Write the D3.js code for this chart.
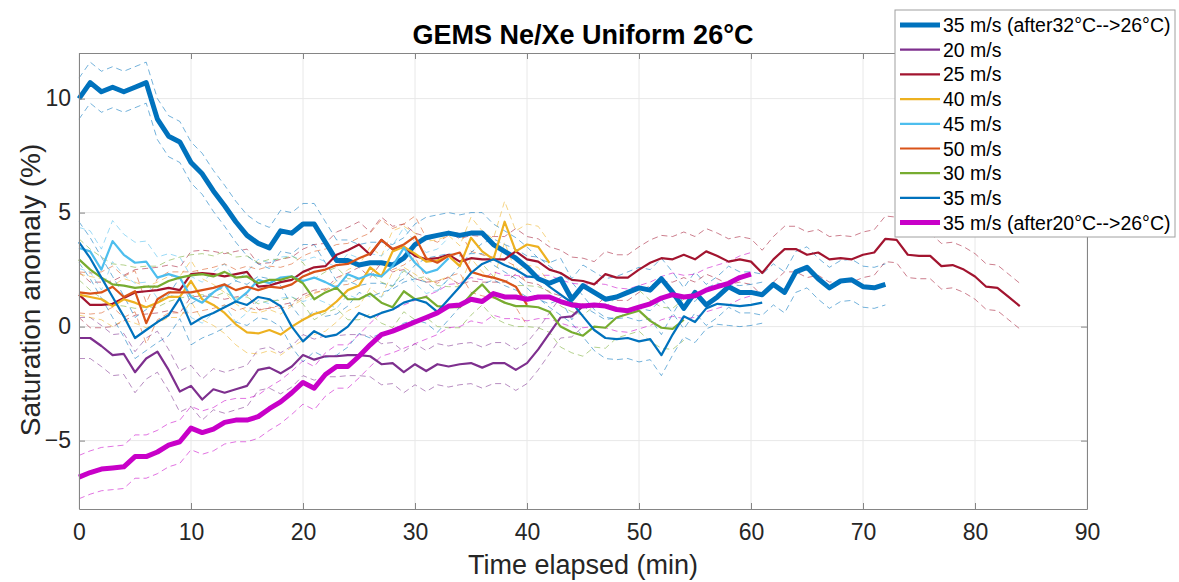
<!DOCTYPE html>
<html>
<head>
<meta charset="UTF-8">
<title>GEMS Ne/Xe Uniform 26°C</title>
<script src="https://cdn.jsdelivr.net/npm/d3@7"></script>
<style>
body { margin: 0; background: #fff; }
svg { font-family: "Liberation Sans", Arial, Helvetica, sans-serif; }
.grid line { stroke: #e8e8e8; stroke-width: 1px; }
.axis path, .axis line { stroke: #858585; }
.axis text { fill: #262626; font-size: 23px; }
.band { fill: none; stroke-width: 1px; stroke-dasharray: 6,4; opacity: 0.55; }
.curve { fill: none; stroke-linejoin: round; }
</style>
</head>
<body>
<svg width="1179" height="582"></svg>
<script>
// one sample per minute, starting at t = 0
var names = ["35 m/s (after32°C-->26°C)", "20 m/s", "25 m/s", "40 m/s", "45 m/s", "50 m/s", "30 m/s", "35 m/s", "35 m/s (after20°C-->26°C)"];
var colors = ["#0072BD", "#7E2F8E", "#A2142F", "#EDB120", "#4DBEEE", "#D95319", "#77AC30", "#0072BD", "#C800C8"];
var thick = [true, false, false, false, false, false, false, false, true];

var after32 = [10.0, 10.7, 10.3, 10.5, 10.3, 10.5, 10.7, 9.1, 8.35, 8.1, 7.2, 6.7, 5.95, 5.3, 4.6, 4.0, 3.65, 3.45, 4.2, 4.1,
  4.5, 4.5, 3.7, 2.9, 2.9, 2.7, 2.8, 2.8, 2.7, 3.0, 3.6, 3.9, 4.0, 4.1, 4.0, 4.1, 4.1, 3.6, 3.3, 3.0,
  2.6, 2.1, 1.9, 2.1, 1.2, 1.8, 1.5, 1.2, 1.3, 1.5, 1.7, 1.6, 2.1, 1.5, 0.8, 1.5, 0.95, 1.3, 1.75, 1.5,
  1.5, 1.4, 1.85, 1.5, 2.4, 2.6, 2.1, 1.7, 2.0, 2.05, 1.75, 1.7, 1.85];
var v20 = [-0.5, -0.5, -0.85, -1.25, -1.2, -2.0, -1.4, -1.1, -1.9, -2.85, -2.6, -3.2, -2.75, -2.9, -2.75, -2.6, -1.9, -1.8, -2.05, -1.75,
  -1.25, -1.45, -1.3, -1.3, -1.25, -1.25, -1.3, -1.65, -1.6, -2.0, -1.65, -1.95, -1.65, -1.75, -1.65, -1.6, -1.8, -1.6, -1.6, -1.9,
  -1.6, -1.0, -0.3, 0.4, 0.45, 0.9];
var v25 = [1.4, 0.95, 0.95, 1.0, 1.25, 1.5, 1.55, 1.6, 1.7, 1.6, 2.3, 2.35, 2.3, 2.2, 2.3, 2.4, 1.75, 1.8, 1.95, 2.05,
  2.4, 2.6, 2.65, 3.15, 3.35, 3.6, 3.15, 3.8, 3.4, 3.5, 3.1, 2.95, 3.0, 3.15, 2.85, 3.0, 2.95, 2.95, 2.95, 3.3,
  2.95, 2.85, 2.5, 2.35, 2.05, 2.0, 1.85, 2.3, 2.15, 2.15, 2.5, 2.8, 3.0, 2.95, 3.15, 2.95, 3.3, 3.1, 2.85, 2.95,
  2.85, 2.35, 2.95, 3.4, 3.4, 3.15, 3.25, 2.95, 3.0, 2.95, 3.15, 3.25, 3.85, 3.8, 3.15, 3.1, 3.1, 2.65, 2.7, 2.5,
  2.2, 1.75, 1.7, 1.3, 0.9];
var v40 = [1.4, 1.3, 1.2, 0.9, 1.2, 1.05, 0.85, 1.05, 1.3, 1.3, 2.0, 1.2, 0.95, 0.6, 0.1, -0.25, -0.3, -0.15, -0.35, 0.0,
  0.3, 0.55, 0.7, 1.1, 1.6, 1.8, 2.6, 2.2, 3.3, 3.5, 3.2, 2.85, 2.9, 3.1, 2.65, 3.9, 3.3, 2.95, 4.6, 3.3,
  3.6, 3.5, 2.8];
var v45 = [3.45, 3.3, 2.5, 3.75, 3.15, 2.8, 2.85, 2.15, 2.3, 2.15, 1.3, 1.05, 1.5, 1.85, 1.1, 1.5, 2.05, 1.9, 2.15, 2.2,
  2.0, 2.15, 1.95, 1.7, 2.3, 2.1, 2.3, 2.2, 2.65, 3.45, 2.8, 2.35, 2.5, 3.0];
var v50 = [1.5, 1.45, 1.5, 1.75, 1.3, 1.55, 0.15, 1.2, 1.5, 1.5, 1.5, 1.6, 1.7, 1.85, 1.6, 1.75, 1.6, 1.75, 1.7, 1.85,
  2.2, 2.4, 2.5, 2.7, 2.75, 3.0, 3.2, 3.8, 3.4, 3.6, 3.95, 3.0, 2.8, 3.1, 3.25, 2.4, 2.25, 2.15, 2.0, 1.75,
  0.95];
var v30 = [2.95, 2.5, 2.15, 1.85, 1.8, 1.7, 1.75, 1.75, 2.0, 2.15, 2.25, 2.3, 2.2, 2.4, 2.15, 2.2, 1.9, 2.05, 2.05, 2.2,
  1.9, 1.2, 1.5, 1.7, 1.2, 1.2, 1.45, 1.05, 0.85, 1.55, 1.2, 1.3, 0.9, 0.85, 0.85, 1.4, 1.85, 1.3, 1.05, 0.9,
  0.9, 0.85, 0.65, 0.0, -0.25, -0.4, 0.0, -0.05, 0.4, 0.55, 0.7, 0.25, -0.05, -0.1, 0.3];
var v35 = [3.7, 3.0, 2.15, 1.3, 0.45, -0.5, -0.15, 0.2, 0.5, 1.25, 0.1, 0.4, 0.6, 0.85, 1.1, 0.95, 1.3, 1.2, 0.9, 0.0,
  -0.65, -0.2, -0.45, -0.35, 0.0, 0.6, 0.4, 0.6, 0.75, 1.05, 1.2, 1.05, 0.65, 1.2, 1.75, 2.35, 2.75, 2.95, 2.7, 2.5,
  2.2, 2.15, 1.75, 1.4, 1.05, 0.45, -0.15, -0.5, -0.55, -0.5, -0.65, -0.55, -1.25, -0.35, 0.45, 0.2, 0.8, 1.0, 0.95, 0.9,
  0.95, 1.05];
var after20 = [-6.6, -6.4, -6.25, -6.2, -6.15, -5.7, -5.7, -5.5, -5.2, -5.05, -4.45, -4.65, -4.5, -4.2, -4.1, -4.1, -3.95, -3.6, -3.3, -2.9,
  -2.45, -2.7, -2.1, -1.75, -1.75, -1.3, -0.8, -0.35, -0.2, 0.0, 0.2, 0.4, 0.6, 0.9, 0.95, 1.2, 1.1, 1.45, 1.3, 1.3,
  1.2, 1.3, 1.3, 1.1, 0.95, 0.9, 0.95, 0.9, 0.75, 0.7, 0.85, 1.0, 1.25, 1.4, 1.3, 1.35, 1.6, 1.75, 1.9, 2.15,
  2.3];
// half width of the dashed uncertainty envelope, per series
var bandHalf = [0.9, 0.9, 1.0, 0.9, 0.9, 0.9, 0.9, 0.9, 0.95];

var seriesValues = [after32, v20, v25, v40, v45, v50, v30, v35, after20];
var xTicks = [0, 10, 20, 30, 40, 50, 60, 70, 80, 90];
var yTicks = [-5, 0, 5, 10];

var svg = d3.select("svg"),
  mLeft = 79, mRight = 1087, mTop = 53, mBottom = 509;
var x = d3.scaleLinear().domain([0, 90]).range([mLeft, mRight]);
var y = d3.scaleLinear().domain([-8, 12]).range([mBottom, mTop]);

// grid
var grid = svg.append("g").attr("class", "grid");
grid.selectAll(".gx").data(xTicks).enter().append("line")
  .attr("x1", function(d){ return x(d); }).attr("x2", function(d){ return x(d); })
  .attr("y1", mTop).attr("y2", mBottom);
grid.selectAll(".gy").data(yTicks).enter().append("line")
  .attr("y1", function(d){ return y(d); }).attr("y2", function(d){ return y(d); })
  .attr("x1", mLeft).attr("x2", mRight);

var line = d3.line()
  .x(function(d, i){ return x(i); })
  .y(function(d){ return y(d); });

var plot = svg.append("g");
seriesValues.forEach(function(vals, k){
  [1, -1].forEach(function(s){
    plot.append("path")
      .attr("class", "band")
      .attr("stroke", colors[k])
      .attr("d", line(vals.map(function(v){ return v + s * bandHalf[k]; })));
  });
});
seriesValues.forEach(function(vals, k){
  plot.append("path")
    .attr("class", "curve")
    .attr("stroke", colors[k])
    .attr("stroke-width", thick[k] ? 5 : 2.2)
    .attr("d", line(vals));
});

// axes (box style, ticks inside)
svg.append("g").attr("class", "axis")
  .attr("transform", "translate(0," + mBottom + ")")
  .call(d3.axisBottom(x).tickValues(xTicks).tickSizeInner(-6).tickSizeOuter(0).tickPadding(15))
  .selectAll("text").attr("dy", "0.71em");
svg.append("g").attr("class", "axis")
  .attr("transform", "translate(0," + mTop + ")")
  .call(d3.axisTop(x).tickValues(xTicks).tickSizeInner(-6).tickSizeOuter(0).tickFormat(""));
svg.append("g").attr("class", "axis")
  .attr("transform", "translate(" + mLeft + ",0)")
  .call(d3.axisLeft(y).tickValues(yTicks).tickSizeInner(-6).tickSizeOuter(0).tickPadding(8));
svg.append("g").attr("class", "axis")
  .attr("transform", "translate(" + mRight + ",0)")
  .call(d3.axisRight(y).tickValues(yTicks).tickSizeInner(-6).tickSizeOuter(0).tickFormat(""));
svg.selectAll(".axis .domain").attr("stroke", "#858585");

// labels
svg.append("text")
  .attr("x", (mLeft + mRight) / 2).attr("y", 44)
  .attr("text-anchor", "middle").attr("font-size", 27).attr("font-weight", "bold")
  .attr("fill", "#000")
  .text("GEMS Ne/Xe Uniform 26°C");
svg.append("text")
  .attr("x", (mLeft + mRight) / 2).attr("y", 574)
  .attr("text-anchor", "middle").attr("font-size", 27).attr("fill", "#262626")
  .text("Time elapsed (min)");
svg.append("text")
  .attr("transform", "translate(40,290) rotate(-90)")
  .attr("text-anchor", "middle").attr("font-size", 28).attr("fill", "#262626")
  .text("Saturation anomaly (%)");

// legend
var lg = svg.append("g").attr("transform", "translate(895,10)");
lg.append("rect").attr("width", 280).attr("height", 227)
  .attr("fill", "#fff").attr("stroke", "#a0a0a0");
names.forEach(function(n, k){
  var yy = 15 + k * 24.7;
  lg.append("line").attr("x1", 5).attr("x2", 45).attr("y1", yy).attr("y2", yy)
    .attr("stroke", colors[k]).attr("stroke-width", thick[k] ? 5 : 2.2);
  lg.append("text").attr("x", 48).attr("y", yy).attr("dy", "0.36em")
    .attr("font-size", 19.5).attr("fill", "#000").text(n);
});
</script>
</body>
</html>
